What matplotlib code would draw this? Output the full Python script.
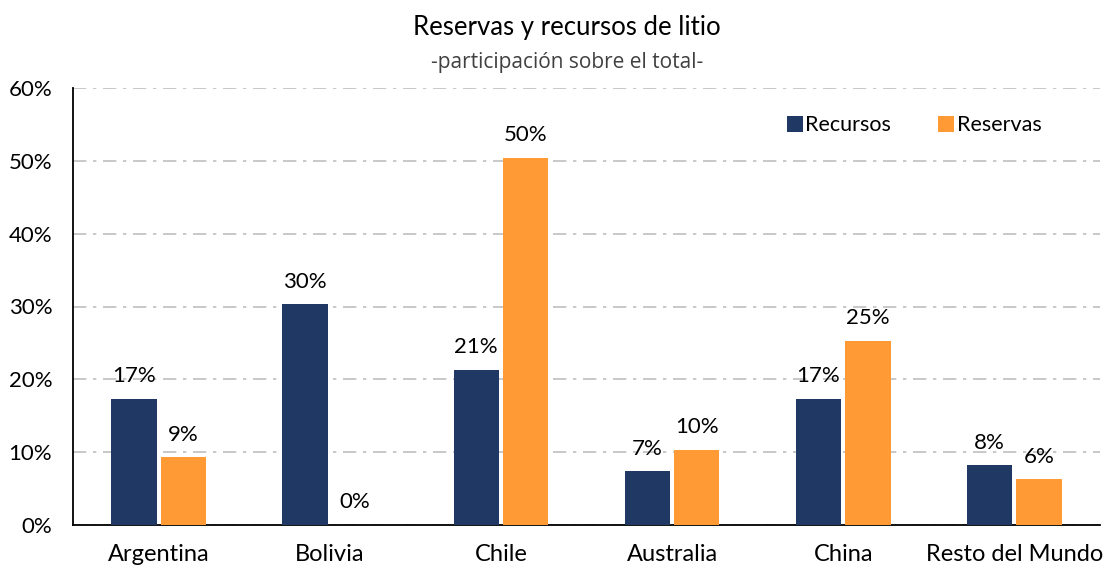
import numpy as np
import matplotlib
matplotlib.use("Agg")
import matplotlib.pyplot as plt
from matplotlib.ticker import PercentFormatter

plt.rcParams['font.family'] = ['Lato', 'DejaVu Sans']

paises = ["Argentina", "Bolivia", "Chile", "Australia", "China", "Resto del Mundo"]
recursos = [17.3, 30.3, 21.3, 7.4, 17.3, 8.2]
reservas = [9.3, 0.0, 50.4, 10.3, 25.3, 6.3]
yticks = [0, 10, 20, 30, 40, 50, 60]

color_rec = "#203864"
color_res = "#FF9A35"

fig = plt.figure(figsize=(11.07, 5.70), dpi=100)
ax = fig.add_axes([73 / 1107, 45 / 570, 1027 / 1107, 437 / 570])

x = np.arange(len(paises))
w = 0.265
gap = 0.012
b1 = ax.bar(x - w / 2 - gap, recursos, w, color=color_rec, label="Recursos", zorder=3)
b2 = ax.bar(x + w / 2 + gap, reservas, w, color=color_res, label="Reservas", zorder=3)

# etiquetas de datos
for bars, vals in [(b1, recursos), (b2, reservas)]:
    for bar, v in zip(bars, vals):
        ax.annotate(f"{v:.0f}%", (bar.get_x() + bar.get_width() / 2, v),
                    xytext=(0, 9), textcoords="offset points",
                    ha="center", va="bottom", fontsize=16, color="black", zorder=4)

ax.set_xlim(-0.5, len(paises) - 0.5)
ax.set_ylim(0, 60)
ax.set_yticks(yticks)
ax.yaxis.set_major_formatter(PercentFormatter(decimals=0))
ax.set_xticks(x)
ax.set_xticklabels(paises, fontsize=17)
ax.tick_params(axis="x", length=0, pad=14)
ax.tick_params(axis="y", length=0, pad=15, labelsize=16)

ax.grid(axis="y", color="#BFBFBF", linestyle=(0, (8, 4, 2, 4)), linewidth=1.2, zorder=0)
ax.spines["top"].set_visible(False)
ax.spines["right"].set_visible(False)
ax.spines["left"].set_linewidth(1.3)
ax.spines["bottom"].set_linewidth(1.3)
ax.spines["bottom"].set_zorder(2)

ax.legend(loc="center left", bbox_to_anchor=(0.695, 0.915), ncol=2, frameon=False,
          fontsize=15.5, handlelength=0.75, handleheight=0.75, handletextpad=0.1,
          columnspacing=2.2, borderpad=0, borderaxespad=0)

fig.text(0.512, 0.951, "Reservas y recursos de litio", ha="center", va="center", fontsize=18.5)
fig.text(0.512, 0.891, "-participación sobre el total-", ha="center", va="center",
         fontsize=15, color="#404040", family=["Open Sans", "DejaVu Sans"])

fig.savefig("out.png", dpi=100)
